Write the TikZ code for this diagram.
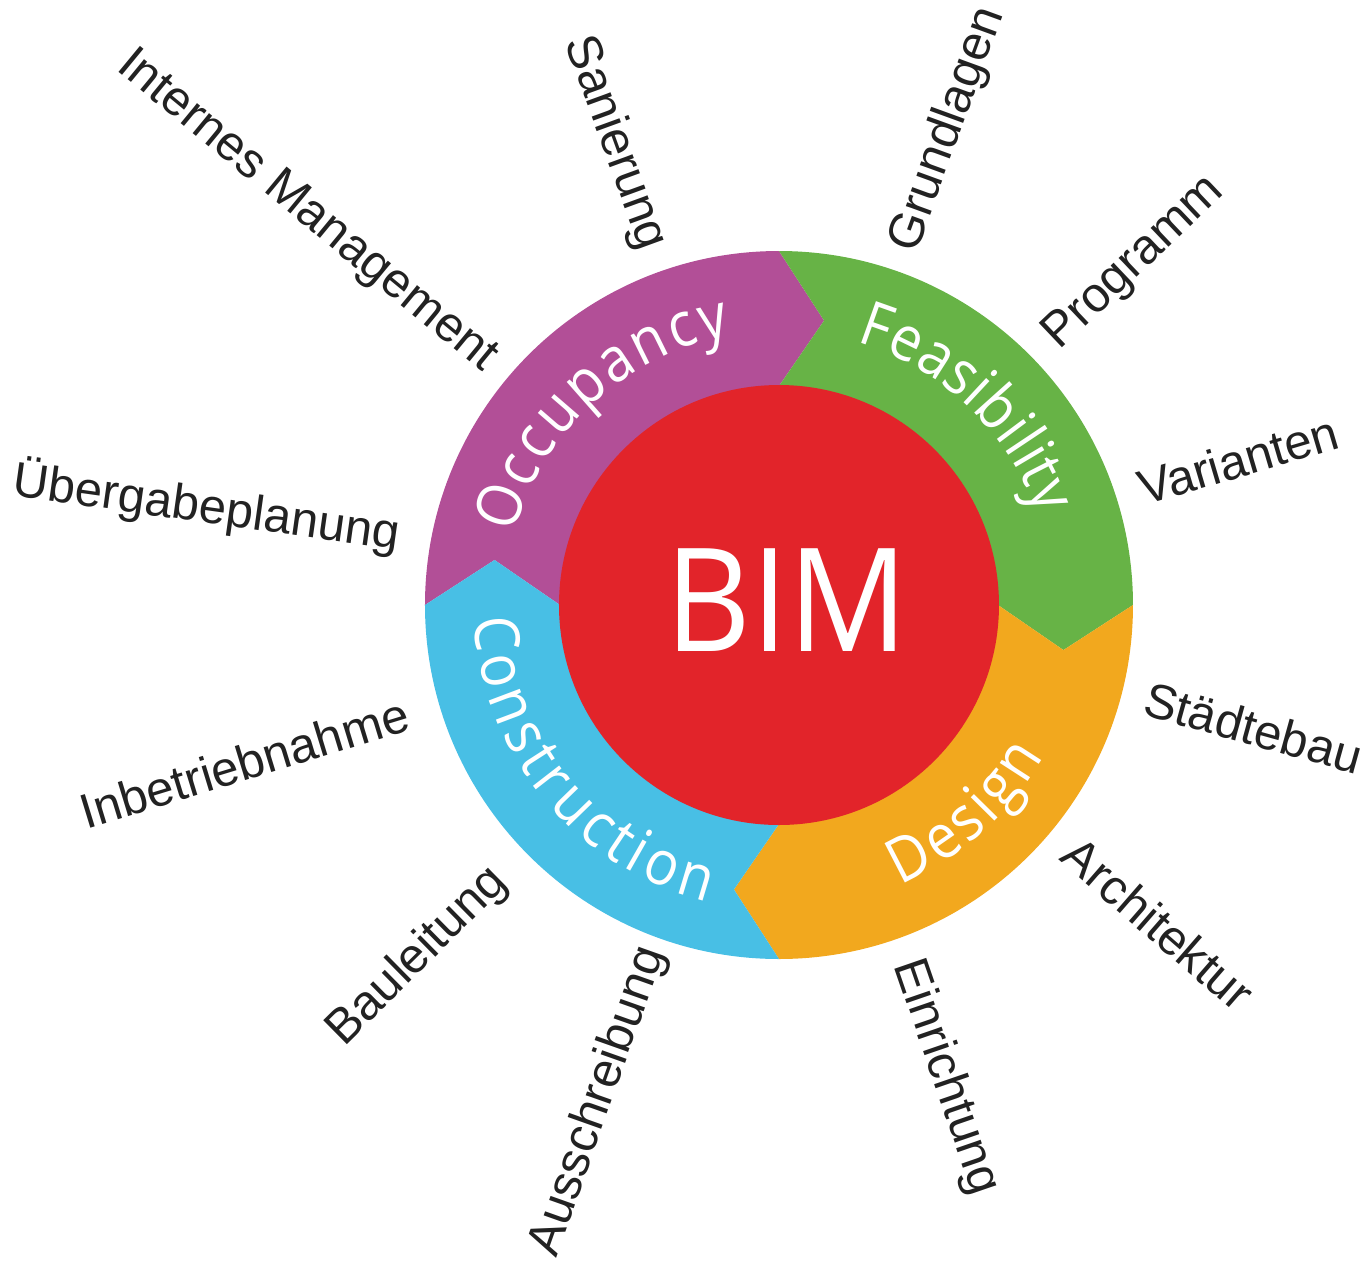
\documentclass[tikz,border=0pt]{standalone}
\usepackage{fontspec}
\setmainfont{Liberation Sans}
\newfontfamily\segfam[FakeStretch=0.9]{Open Sans}
\newfontfamily\bimfam[FakeStretch=0.92]{Open Sans}
\usetikzlibrary{decorations.text}
\definecolor{occ}{HTML}{B24F97}
\definecolor{fea}{HTML}{67B346}
\definecolor{des}{HTML}{F2A81E}
\definecolor{con}{HTML}{48BFE5}
\definecolor{bimred}{HTML}{E2242A}
\definecolor{lab}{HTML}{222222}
\newcommand\segfont{\segfam\fontsize{31}{31}\selectfont}
\newcommand\segment[3]{%
  \fill[#1] (#2:354) arc[start angle=#2,end angle=#3,radius=354]
    -- ({#3-9}:288) -- (#3:219) arc[start angle=#3,end angle=#2,radius=219]
    -- ({#2-9}:288) -- cycle;}
\begin{document}
\begin{tikzpicture}[x=0.5pt,y=0.5pt,
  outlab/.style={font=\fontsize{24.5}{24.5}\selectfont, text=lab, inner sep=0pt,
    text height=0.88em, text depth=0pt},
  rlab/.style={outlab, anchor=west, rotate=#1},
  llab/.style={outlab, anchor=east, rotate=#1-180},
  segtext/.style={decorate, decoration={text along path, text align=fit to path,
    text color=white, text={|\segfont|#1}}}]
\useasboundingbox (-779,-661) rectangle (593,605);
% ring segments
\segment{occ}{180}{90}
\segment{fea}{90}{0}
\segment{des}{0}{-90}
\segment{con}{-90}{-180}
% core
\node[circle, fill=bimred, minimum size=220pt, inner sep=0pt] (core) at (0,0) {};
\node[text=white, inner sep=0pt, font=\bimfam\fontsize{72}{72}\selectfont] (bim) at (8,5) {BIM};
% curved segment labels
\path[segtext=Occupancy] (165:274) arc[start angle=165,end angle=100,radius=274];
\path[segtext=Feasibility] (73.5:274) arc[start angle=73.5,end angle=19,radius=274];
\path[segtext=Design] (-66.5:305) arc[start angle=-66.5,end angle=-29.7,radius=305];
\path[segtext=Construction] (182.5:305) arc[start angle=182.5,end angle=256.5,radius=305];
% outer labels
\node[rlab=70] (grundlagen) at (70:376) {Grundlagen};
\node[rlab=43.5] (programm) at (43.5:378) {Programm};
\node[rlab=16.5] (varianten) at (16.5:378) {Varianten};
\node[rlab=-15.5] (staedtebau) at (-15.5:378) {Städtebau};
\node[rlab=-41] (architektur) at (-41:378) {Architektur};
\node[rlab=-71] (einrichtung) at (-71:378) {Einrichtung};
\node[outlab, anchor=east, rotate=70.5] (ausschreibung) at (-109.6:366) {Ausschreibung};
\node[outlab, anchor=east, rotate=44.6] (bauleitung) at (-276,-273) {Bauleitung};
\node[outlab, anchor=east, rotate=17] (inbetriebnahme) at (-369,-116) {Inbetriebnahme};
\node[outlab, anchor=east, rotate=-8] (uebergabe) at (-380,64) {Übergabeplanung};
\node[llab=140.5] (internes) at (140.5:376) {Internes Management};
\node[llab=110] (sanierung) at (110:378) {Sanierung};
\end{tikzpicture}
\end{document}
